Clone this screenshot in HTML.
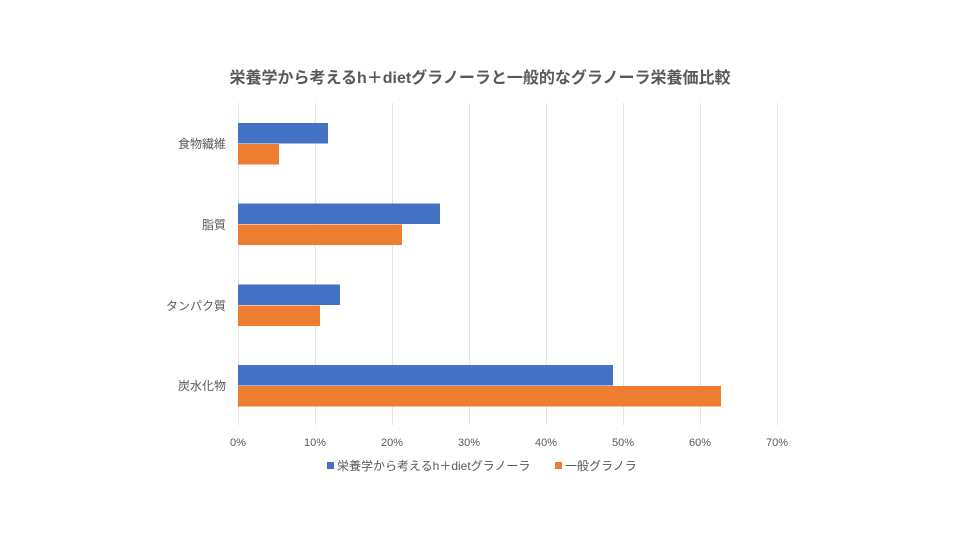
<!DOCTYPE html>
<html><head><meta charset="utf-8"><style>
body{margin:0;background:#fff;}
svg text{font-family:"Liberation Sans","Noto Sans CJK JP",sans-serif;fill:#595959;}
</style></head><body>
<svg width="960" height="540" xmlns="http://www.w3.org/2000/svg">
<rect width="960" height="540" fill="#fff"/>
<text x="480" y="83" text-anchor="middle" font-size="16" font-weight="bold" fill="#595959">栄養学から考えるh＋dietグラノーラと一般的なグラノーラ栄養価比較</text>
<g stroke="#e3e3e3" stroke-width="1">
<line x1="238.5" y1="103" x2="238.5" y2="425"/>
<line x1="315.5" y1="103" x2="315.5" y2="425"/>
<line x1="392.5" y1="103" x2="392.5" y2="425"/>
<line x1="469.5" y1="103" x2="469.5" y2="425"/>
<line x1="546.5" y1="103" x2="546.5" y2="425"/>
<line x1="623.5" y1="103" x2="623.5" y2="425"/>
<line x1="700.5" y1="103" x2="700.5" y2="425"/>
<line x1="777.5" y1="103" x2="777.5" y2="425"/>
</g>
<g fill="#4472c4">
<rect x="238" y="123" width="90" height="20.5"/>
<rect x="238" y="203.5" width="202" height="20.5"/>
<rect x="238" y="284.5" width="102" height="20.5"/>
<rect x="238" y="365" width="375" height="20.5"/>
</g>
<g fill="#ed7d31">
<rect x="238" y="144" width="41" height="20.5"/>
<rect x="238" y="224.5" width="164" height="20.5"/>
<rect x="238" y="305.5" width="82" height="20.5"/>
<rect x="238" y="386" width="483" height="20.5"/>
</g>
<g font-size="12" text-anchor="end">
<text x="226" y="148">食物繊維</text>
<text x="226" y="229">脂質</text>
<text x="226" y="310">タンパク質</text>
<text x="226" y="390">炭水化物</text>
</g>
<g font-size="11" text-anchor="middle">
<text x="238" y="446">0%</text>
<text x="315" y="446">10%</text>
<text x="392" y="446">20%</text>
<text x="469" y="446">30%</text>
<text x="546" y="446">40%</text>
<text x="623" y="446">50%</text>
<text x="700" y="446">60%</text>
<text x="777" y="446">70%</text>
</g>
<rect x="327" y="462" width="7" height="7" fill="#4472c4"/>
<text x="337" y="470" font-size="12">栄養学から考えるh＋dietグラノーラ</text>
<rect x="555" y="462" width="7" height="7" fill="#ed7d31"/>
<text x="565" y="470" font-size="12">一般グラノラ</text>
</svg>
</body></html>
